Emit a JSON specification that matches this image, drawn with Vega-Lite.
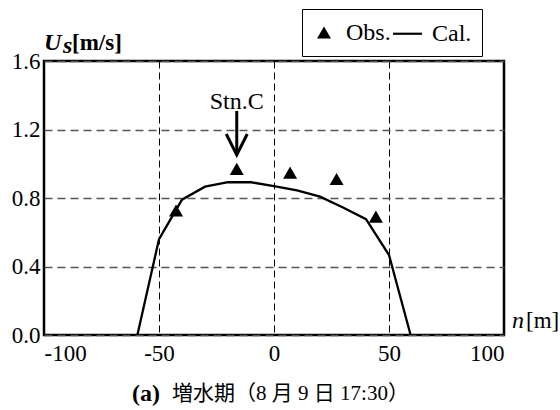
{
  "$schema": "https://vega.github.io/schema/vega-lite/v6.json",
  "autosize": {"type": "none"},
  "padding": {"left": 44, "top": 61, "right": 56, "bottom": 75},
  "width": 460,
  "height": 274,
  "background": "white",
  "data": {"values": [{"label": "anchor"}]},
  "config": {
    "view": {"stroke": "black", "strokeWidth": 2.5},
    "font": "Liberation Serif",
    "axis": {
      "domain": false,
      "ticks": false,
      "tickSize": 0,
      "labelFont": "Liberation Serif",
      "labelFontSize": 23,
      "labelColor": "black",
      "title": null
    },
    "axisX": {"gridColor": "black", "gridWidth": 1, "gridDash": [7, 4], "gridOpacity": 1, "labelPadding": 7},
    "axisY": {"gridColor": "#555555", "gridWidth": 1.4, "gridDash": [8, 5], "gridOpacity": 1, "labelPadding": 4},
    "legend": {
      "strokeColor": "black",
      "padding": 10,
      "fillColor": "white",
      "labelFont": "Liberation Serif",
      "labelFontSize": 24,
      "labelColor": "black",
      "symbolFillColor": "black",
      "symbolStrokeColor": "black",
      "symbolStrokeWidth": 0,
      "symbolOpacity": 1
    }
  },
  "datasets": {
    "cal": [
      {"n": -59.4, "U": 0},
      {"n": -50, "U": 0.56},
      {"n": -40, "U": 0.79},
      {"n": -30, "U": 0.866},
      {"n": -20, "U": 0.892},
      {"n": -10, "U": 0.892},
      {"n": 0, "U": 0.87},
      {"n": 10, "U": 0.845},
      {"n": 20, "U": 0.808},
      {"n": 30, "U": 0.745},
      {"n": 40, "U": 0.676},
      {"n": 50, "U": 0.467},
      {"n": 59.4, "U": 0}
    ],
    "obs": [
      {"n": -42.6, "U": 0.727, "series": "Obs."},
      {"n": -16.2, "U": 0.97, "series": "Obs."},
      {"n": 7.0, "U": 0.948, "series": "Obs."},
      {"n": 27.2, "U": 0.911, "series": "Obs."},
      {"n": 44.3, "U": 0.691, "series": "Obs."}
    ],
    "arrow": [
      {"n": -16.2, "top": 1.308, "tip": 1.051}
    ]
  },
  "layer": [
    {
      "data": {"name": "cal"},
      "mark": {"type": "line", "color": "black", "strokeWidth": 2.3, "clip": true},
      "encoding": {
        "x": {
          "field": "n", "type": "quantitative",
          "scale": {"domain": [-100, 100], "nice": false, "zero": false},
          "axis": {"values": [-100, -50, 0, 50, 100], "grid": true, "labelExpr": "'' + datum.value"}
        },
        "y": {
          "field": "U", "type": "quantitative",
          "scale": {"domain": [0, 1.6], "nice": false},
          "axis": {"values": [0, 0.4, 0.8, 1.2, 1.6], "format": ".1f", "grid": true}
        }
      }
    },
    {
      "data": {"name": "obs"},
      "mark": {"type": "point", "filled": true, "color": "black", "opacity": 1},
      "encoding": {
        "x": {"field": "n", "type": "quantitative"},
        "y": {"field": "U", "type": "quantitative"},
        "size": {
          "field": "series", "type": "nominal",
          "scale": {"type": "point", "domain": ["Obs.", "Cal."], "range": [196, 841], "padding": 0}
        },
        "shape": {
          "field": "series", "type": "nominal",
          "scale": {"domain": ["Obs.", "Cal."], "range": ["triangle-up", "M-1,-0.075L1,-0.075L1,0.075L-1,0.075Z"]},
          "legend": {
            "title": null,
            "orient": "none",
            "legendX": 258,
            "legendY": -52,
            "direction": "horizontal",
            "labelOffset": 10,
            "columnPadding": 2
          }
        }
      }
    },
    {
      "data": {"name": "arrow"},
      "mark": {"type": "rule", "color": "black", "strokeWidth": 3},
      "encoding": {
        "x": {"field": "n", "type": "quantitative"},
        "y": {"field": "top", "type": "quantitative"},
        "y2": {"field": "tip"}
      }
    },
    {
      "data": {"name": "arrow"},
      "mark": {"type": "point", "shape": "M-1,-2L0,0L1,-2", "filled": false, "stroke": "black", "strokeWidth": 3, "size": 441, "opacity": 1, "strokeJoin": "miter"},
      "encoding": {
        "x": {"field": "n", "type": "quantitative"},
        "y": {"field": "tip", "type": "quantitative"}
      }
    },
    {
      "data": {"name": "arrow"},
      "mark": {"type": "text", "text": "Stn.C", "font": "Liberation Serif", "fontSize": 24, "color": "black", "align": "center", "baseline": "alphabetic", "dy": -2},
      "encoding": {
        "x": {"field": "n", "type": "quantitative"},
        "y": {"field": "top", "type": "quantitative"}
      }
    },
    {
      "mark": {"type": "text", "text": "U", "font": "Liberation Serif", "fontSize": 24, "fontStyle": "italic", "fontWeight": "bold", "color": "black", "align": "left", "baseline": "alphabetic", "dx": 0, "dy": -11},
      "encoding": {"x": {"datum": -100}, "y": {"datum": 1.6}}
    },
    {
      "mark": {"type": "text", "text": "s", "font": "Liberation Serif", "fontSize": 24, "fontStyle": "italic", "fontWeight": "bold", "color": "black", "align": "left", "baseline": "alphabetic", "dx": 19, "dy": -8},
      "encoding": {"x": {"datum": -100}, "y": {"datum": 1.6}}
    },
    {
      "mark": {"type": "text", "text": "[m/s]", "font": "Liberation Serif", "fontSize": 23, "fontWeight": "bold", "color": "black", "align": "left", "baseline": "alphabetic", "dx": 28, "dy": -11},
      "encoding": {"x": {"datum": -100}, "y": {"datum": 1.6}}
    },
    {
      "mark": {"type": "text", "text": "n", "font": "Liberation Serif", "fontSize": 24, "fontStyle": "italic", "color": "black", "align": "left", "baseline": "alphabetic", "dx": 8, "dy": -7},
      "encoding": {"x": {"datum": 100}, "y": {"datum": 0}}
    },
    {
      "mark": {"type": "text", "text": "[m]", "font": "Liberation Serif", "fontSize": 23, "color": "black", "align": "left", "baseline": "alphabetic", "dx": 22, "dy": -7},
      "encoding": {"x": {"datum": 100}, "y": {"datum": 0}}
    },
    {
      "mark": {"type": "text", "text": "(a)", "font": "Liberation Serif", "fontSize": 24, "fontWeight": "bold", "color": "black", "align": "left", "baseline": "middle"},
      "encoding": {"x": {"datum": -61.7}, "y": {"datum": -0.345}}
    },
    {
      "mark": {"type": "text", "text": "増水期（8 月 9 日 17:30）", "font": "Liberation Serif, Noto Sans CJK JP", "fontSize": 21, "color": "black", "align": "left", "baseline": "middle"},
      "encoding": {"x": {"datum": -44.3}, "y": {"datum": -0.345}}
    }
  ]
}
